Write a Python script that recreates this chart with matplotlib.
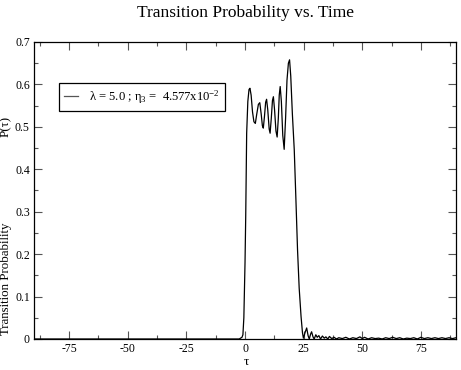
"""
Transition probability P(tau) vs. time, xmgrace-like styling.
"""

import numpy as np
import matplotlib
matplotlib.use('Agg')
import matplotlib.pyplot as plt
from matplotlib.ticker import MultipleLocator

plt.rcParams['font.family'] = ['Liberation Serif', 'DejaVu Serif']
plt.rcParams['mathtext.fontset'] = 'custom'
plt.rcParams['mathtext.rm'] = 'Liberation Serif'
plt.rcParams['mathtext.it'] = 'Liberation Serif:italic'
plt.rcParams['axes.unicode_minus'] = False

# values
tau = [-90.0, -2.5, -1.3, -0.9, -0.5, 0.0, 0.3, 0.7, 1.2, 1.7, 2.1, 2.6, 3.2,
       3.8, 4.4, 5.0, 5.7, 6.3, 6.9, 7.4, 7.8, 8.3, 8.8, 9.2, 9.7, 10.3, 10.7,
       11.2, 11.7, 12.1, 12.6, 13.2, 13.7, 14.2, 14.6, 15.0, 15.5, 16.1, 16.7,
       17.3, 17.9, 18.5, 19.0, 19.5, 20.2, 21.0, 21.7, 22.4, 23.1, 23.9, 24.5,
       24.9, 25.6, 26.3, 26.9, 27.4, 28.0, 28.4, 29.0, 29.5, 30.2, 30.8, 31.5,
       32.2, 33.0, 33.8, 34.5, 35.3, 36.0, 37.0, 38.0, 39.0, 40.0, 41.5, 43.0,
       44.5, 46.0, 47.5, 49.0, 50.0, 51.0, 52.5, 54.0, 55.5, 57.0, 58.5, 60.0,
       61.5, 63.0, 64.5, 66.0, 67.5, 69.0, 70.5, 72.0, 73.5, 75.0, 76.5, 78.0,
       79.5, 81.0, 82.5, 84.0, 85.5, 87.0, 88.5, 90.0]
prob = [0.0, 0.0, 0.004, 0.01, 0.05, 0.18, 0.29, 0.485, 0.56, 0.588, 0.591,
        0.575, 0.535, 0.512, 0.508, 0.53, 0.553, 0.557, 0.53, 0.503, 0.497,
        0.525, 0.558, 0.565, 0.54, 0.495, 0.485, 0.52, 0.562, 0.571, 0.54,
        0.49, 0.476, 0.52, 0.575, 0.595, 0.56, 0.48, 0.447, 0.52, 0.61, 0.65,
        0.658, 0.62, 0.53, 0.446, 0.33, 0.21, 0.12, 0.053, 0.015, 0.002, 0.015,
        0.026, 0.008, 0.0, 0.012, 0.017, 0.005, 0.0, 0.01, 0.004, 0.008, 0.0,
        0.007, 0.002, 0.005, 0.0, 0.006, 0.001, 0.004, 0.0, 0.003, 0.001,
        0.004, 0.0, 0.003, 0.001, 0.005, 0.001, 0.004, 0.0, 0.003, 0.001,
        0.002, 0.0, 0.003, 0.001, 0.004, 0.001, 0.003, 0.0, 0.002, 0.001,
        0.003, 0.0, 0.004, 0.001, 0.003, 0.001, 0.003, 0.001, 0.003, 0.001,
        0.003, 0.001, 0.003]

label = r'λ = 5.0 ; η$_3$ =  4.577x10$^{-2}$'

fig = plt.figure(figsize=(4.61, 3.70), dpi=100)
ax = fig.add_axes([0.0738, 0.0838, 0.9154, 0.8027])

ax.plot(tau, prob, color='black', lw=0.9, label=label)

ax.set_xlim(-90, 90)
ax.set_ylim(0, 0.7)
ax.xaxis.set_minor_locator(MultipleLocator(12.5))
ax.yaxis.set_minor_locator(MultipleLocator(0.05))
ax.set_xticks([-75, -50, -25, 0, 25, 50, 75])
ax.set_yticks(np.arange(0, 0.71, 0.1))
ax.set_yticklabels(['0', '0.1', '0.2', '0.3', '0.4', '0.5', '0.6', '0.7'])
ax.tick_params(which='both', direction='in', top=True, right=True,
               labelsize=8.5, width=0.8, color='#555555', pad=3)
ax.tick_params(which='major', length=5.5)
ax.tick_params(which='minor', length=2.8)
for s in ax.spines.values():
    s.set_linewidth(0.9)

ax.set_title('Transition Probability vs. Time', fontsize=12.5, y=1.085, pad=0)
# tau label placed by hand so it stays inside the canvas
fig.text(246 / 461, 1 - 362 / 370, 'τ', ha='center', va='center', fontsize=9.5)

# y label drawn in two pieces, as in the reference (wide gap before P(tau))
fig.text(6 / 461, 1 - 279 / 370, 'Transition Probability', rotation=90,
         ha='center', va='center', fontsize=9.3)
fig.text(6 / 461, 1 - 126 / 370, 'P(τ)', rotation=90,
         ha='center', va='center', fontsize=9.3)

leg = ax.legend(loc='upper left', bbox_to_anchor=(0.059, 0.861),
                borderaxespad=0, fancybox=False, fontsize=9.1, handlelength=1.1,
                handletextpad=0.9, borderpad=0.4, framealpha=1)
leg.get_frame().set_edgecolor('black')
leg.get_frame().set_linewidth(0.9)
leg.get_lines()[0].set_color('#555555')

fig.savefig('out.png', dpi=100)
